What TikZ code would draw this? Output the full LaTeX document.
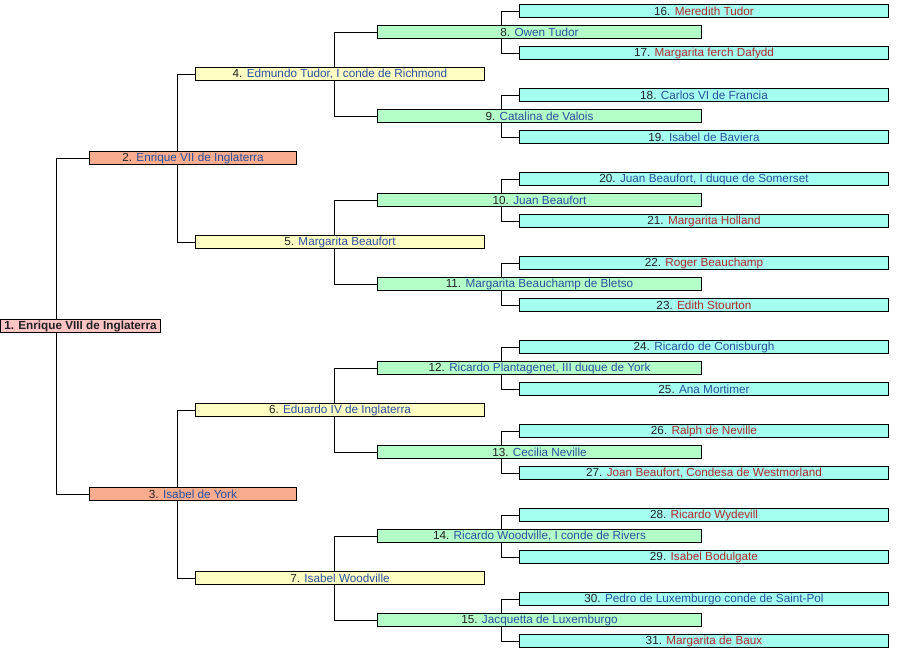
\documentclass[tikz,border=0pt]{standalone}
\usepackage{fontspec}
\setmainfont{Liberation Sans}
\definecolor{numero}{HTML}{202122}
\definecolor{blu}{HTML}{2A4F9E}
\definecolor{rosso}{HTML}{B02A2A}
\definecolor{rosa}{HTML}{FFC4C4}
\definecolor{salmone}{HTML}{FAAC8E}
\definecolor{giallo}{HTML}{FFFFC4}
\definecolor{verde}{HTML}{B4FFC8}
\definecolor{acqua}{HTML}{A4FFF0}
\newcommand{\nomeb}[1]{\textcolor{blu}{#1}}
\newcommand{\nomer}[1]{\textcolor{rosso}{#1}}
\tikzset{
  persona/.style={draw, rectangle, line width=0.75pt, inner sep=0pt,
    minimum height=9.8pt, text=numero, font=\fontsize{8.8}{10}\selectfont},
  g1/.style={persona, fill=rosa, minimum width=120pt},
  g2/.style={persona, fill=salmone, minimum width=155.25pt},
  g3/.style={persona, fill=giallo, minimum width=216.75pt},
  g4/.style={persona, fill=verde, minimum width=242.6pt},
  g5/.style={persona, fill=acqua, minimum width=276.4pt},
  ramo/.style={draw, line width=0.75pt},
}

\begin{document}
\begin{tikzpicture}[x=0.75pt, y=-0.75pt]
\useasboundingbox (0,0) rectangle (904,661);
\begin{scope}
 % nodi
  \node (a1)  at ( 80.5, 326.2) [g1] {\textbf{1. Enrique VIII de Inglaterra}};
  \node (a2)  at (193,   158.2) [g2] {2. \nomeb{Enrique VII de Inglaterra}};
  \node (a3)  at (193,   494.2) [g2] {3. \nomeb{Isabel de York}};
  \node (a4)  at (340,    74.2) [g3] {4. \nomeb{Edmundo Tudor, I conde de Richmond}};
  \node (a5)  at (340,   242.2) [g3] {5. \nomeb{Margarita Beaufort}};
  \node (a6)  at (340,   410.2) [g3] {6. \nomeb{Eduardo IV de Inglaterra}};
  \node (a7)  at (340,   578.2) [g3] {7. \nomeb{Isabel Woodville}};
  \node (a8)  at (539.5,  32.2) [g4] {8. \nomeb{Owen Tudor}};
  \node (a9)  at (539.5, 116.2) [g4] {9. \nomeb{Catalina de Valois}};
  \node (a10) at (539.5, 200.2) [g4] {10. \nomeb{Juan Beaufort}};
  \node (a11) at (539.5, 284.2) [g4] {11. \nomeb{Margarita Beauchamp de Bletso}};
  \node (a12) at (539.5, 368.2) [g4] {12. \nomeb{Ricardo Plantagenet, III duque de York}};
  \node (a13) at (539.5, 452.2) [g4] {13. \nomeb{Cecilia Neville}};
  \node (a14) at (539.5, 536.2) [g4] {14. \nomeb{Ricardo Woodville, I conde de Rivers}};
  \node (a15) at (539.5, 620.2) [g4] {15. \nomeb{Jacquetta de Luxemburgo}};
  \node (a16) at (704,    11.2) [g5] {16. \nomer{Meredith Tudor}};
  \node (a17) at (704,    53.2) [g5] {17. \nomer{Margarita ferch Dafydd}};
  \node (a18) at (704,    95.2) [g5] {18. \nomeb{Carlos VI de Francia}};
  \node (a19) at (704,   137.2) [g5] {19. \nomeb{Isabel de Baviera}};
  \node (a20) at (704,   179.2) [g5] {20. \nomeb{Juan Beaufort, I duque de Somerset}};
  \node (a21) at (704,   221.2) [g5] {21. \nomer{Margarita Holland}};
  \node (a22) at (704,   263.2) [g5] {22. \nomer{Roger Beauchamp}};
  \node (a23) at (704,   305.2) [g5] {23. \nomer{Edith Stourton}};
  \node (a24) at (704,   347.2) [g5] {24. \nomeb{Ricardo de Conisburgh}};
  \node (a25) at (704,   389.2) [g5] {25. \nomeb{Ana Mortimer}};
  \node (a26) at (704,   431.2) [g5] {26. \nomer{Ralph de Neville}};
  \node (a27) at (704,   473.2) [g5] {27. \nomer{Joan Beaufort, Condesa de Westmorland}};
  \node (a28) at (704,   515.2) [g5] {28. \nomer{Ricardo Wydevill}};
  \node (a29) at (704,   557.2) [g5] {29. \nomer{Isabel Bodulgate}};
  \node (a30) at (704,   599.2) [g5] {30. \nomeb{Pedro de Luxemburgo conde de Saint-Pol}};
  \node (a31) at (704,   641.2) [g5] {31. \nomer{Margarita de Baux}};
 % colonne dei rami
  \coordinate (ja) at ( 56.5, 0);
  \coordinate (jb) at (177.5, 0);
  \coordinate (jc) at (334.3, 0);
  \coordinate (jd) at (501.7, 0);
 % rami
  \path[ramo] (a1.north -| ja) |- (a2.west);
  \path[ramo] (a1.south -| ja) |- (a3.west);
  \path[ramo] (a2.north -| jb) |- (a4.west);
  \path[ramo] (a2.south -| jb) |- (a5.west);
  \path[ramo] (a3.north -| jb) |- (a6.west);
  \path[ramo] (a3.south -| jb) |- (a7.west);
  \path[ramo] (a4.north -| jc) |- (a8.west);
  \path[ramo] (a4.south -| jc) |- (a9.west);
  \path[ramo] (a5.north -| jc) |- (a10.west);
  \path[ramo] (a5.south -| jc) |- (a11.west);
  \path[ramo] (a6.north -| jc) |- (a12.west);
  \path[ramo] (a6.south -| jc) |- (a13.west);
  \path[ramo] (a7.north -| jc) |- (a14.west);
  \path[ramo] (a7.south -| jc) |- (a15.west);
  \path[ramo] (a8.north -| jd) |- (a16.west);
  \path[ramo] (a8.south -| jd) |- (a17.west);
  \path[ramo] (a9.north -| jd) |- (a18.west);
  \path[ramo] (a9.south -| jd) |- (a19.west);
  \path[ramo] (a10.north -| jd) |- (a20.west);
  \path[ramo] (a10.south -| jd) |- (a21.west);
  \path[ramo] (a11.north -| jd) |- (a22.west);
  \path[ramo] (a11.south -| jd) |- (a23.west);
  \path[ramo] (a12.north -| jd) |- (a24.west);
  \path[ramo] (a12.south -| jd) |- (a25.west);
  \path[ramo] (a13.north -| jd) |- (a26.west);
  \path[ramo] (a13.south -| jd) |- (a27.west);
  \path[ramo] (a14.north -| jd) |- (a28.west);
  \path[ramo] (a14.south -| jd) |- (a29.west);
  \path[ramo] (a15.north -| jd) |- (a30.west);
  \path[ramo] (a15.south -| jd) |- (a31.west);
\end{scope}
\end{tikzpicture}
\end{document}
